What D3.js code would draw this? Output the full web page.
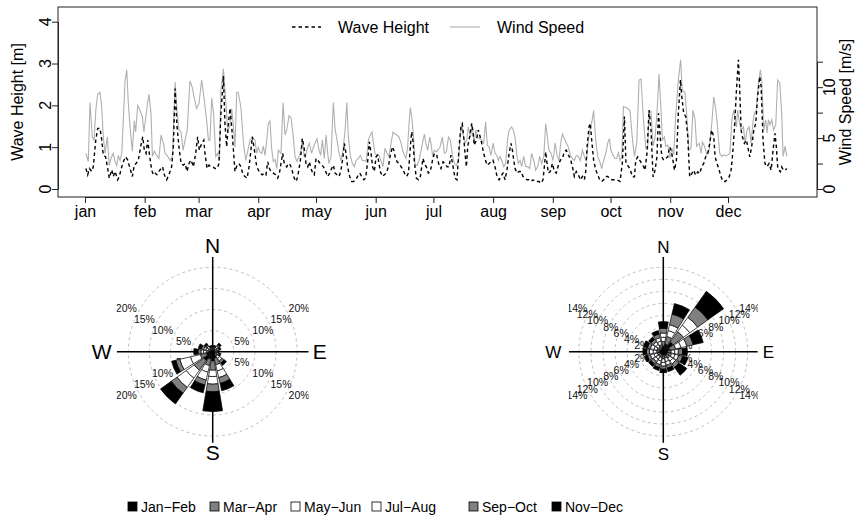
<!DOCTYPE html>
<html><head><meta charset="utf-8">
<script src="https://cdn.jsdelivr.net/npm/d3@7"></script>
<style>
html,body{margin:0;padding:0;background:#fff;}
svg{display:block;font-family:"Liberation Sans",Arial,Helvetica,sans-serif;}
</style></head><body>
<svg id="chart" width="858" height="519"></svg>
<script>
// ---- daily series (day of year) ----
const monthLabels = ["jan","feb","mar","apr","may","jun","jul","aug","sep","oct","nov","dec"];
const monthStartDays = [0,31,59,90,120,151,181,212,243,273,304,334];
const waveTicks = [0,1,2,3,4];
const windTicks = [0,2.5,5,7.5,10,12.5];
const windTickLabels = [0,5,10];

const waveDays = [
0.5,1.4,2.3,3.5,4.3,5.6,6.6,7.8,8.7,9.5,10.7,11.8,12.6,13.9,14.7,15.6,17.0,17.8,19.1,19.9,21.1,22.2,23.4,24.6,25.6,26.5,27.7,28.9,30.0,30.8,31.7,32.6,33.4,34.6,35.5,36.4,37.4,38.4,39.5,40.3,41.2,42.4,43.6,45.0,45.9,46.8,47.8,48.8,49.9,51.1,52.0,53.0,54.0,55.1,56.3,57.5,58.5,59.4,60.6,61.7,62.3,63.4,64.4,65.5,66.5,67.5,68.6,69.6,70.5,71.9,72.7,73.6,74.5,75.3,76.2,77.1,77.9,79.0,80.0,81.0,82.1,83.1,84.2,85.2,86.2,86.9,88.0,89.2,
90.9,92.1,93.2,94.0,94.9,95.8,96.6,97.8,99.0,100.1,101.0,101.8,102.7,103.5,104.8,105.6,106.7,107.7,108.7,109.8,110.8,111.9,112.9,114.0,114.8,115.7,116.5,117.4,118.3,119.1,120.0,120.9,122.1,122.9,123.9,125.0,126.1,127.1,128.1,129.0,129.9,130.9,132.0,133.0,134.0,134.7,135.6,136.4,137.5,138.5,139.6,140.6,141.6,142.7,143.7,144.8,145.8,146.8,147.7,148.6,149.4,150.3,151.2,152.0,152.7,153.4,154.5,155.5,156.5,157.6,158.6,159.7,160.4,161.1,162.1,163.1,164.2,165.2,166.3,167.1,168.0,169.0,169.7,170.4,171.1,172.1,173.2,174.2,174.9,175.6,176.3,177.3,178.4,179.4,180.5,181.5,182.7,
183.9,184.9,186.0,187.0,188.1,189.1,190.1,191.2,192.2,193.2,193.9,194.6,195.3,196.0,196.7,197.4,198.1,198.8,199.8,200.9,201.6,202.2,203.3,204.3,205.0,205.7,206.4,207.1,207.8,208.8,209.9,210.9,211.9,213.0,214.0,215.1,216.1,217.1,218.2,219.2,220.3,221.3,222.0,222.7,223.4,224.4,225.5,226.5,227.5,228.6,229.6,230.6,231.7,232.7,233.8,234.8,235.8,236.9,237.9,238.6,239.3,240.0,240.7,241.7,242.8,243.8,244.8,245.9,246.9,248.0,249.0,250.0,251.1,252.1,253.2,254.2,255.2,256.3,257.3,258.4,259.4,260.1,260.8,261.8,262.5,263.2,264.2,265.3,266.3,267.4,268.4,269.4,270.5,271.5,272.6,273.6,274.6,276.2,
277.9,279.1,280.2,281.0,282.3,283.3,284.4,285.4,286.1,287.1,288.1,289.2,290.2,290.9,291.9,293.0,294.0,295.1,296.1,297.1,297.9,298.9,299.6,300.6,301.7,302.7,303.7,304.4,305.1,306.2,307.2,308.2,309.3,310.0,311.0,312.1,313.1,314.1,315.2,316.2,317.2,318.3,319.3,320.3,321.4,322.4,323.5,324.5,325.5,326.6,327.3,328.3,329.4,330.4,331.4,332.5,333.5,334.6,335.6,336.3,337.3,338.4,339.4,340.1,340.8,341.5,342.5,343.6,344.6,345.3,346.3,347.4,348.4,349.4,350.5,351.2,352.2,353.2,354.3,355.3,356.4,357.4,358.4,359.1,359.8,360.5,361.2,361.9,362.8,363.7,364.5];
const waveHeight = [
0.49,0.34,0.49,0.42,0.53,1.17,1.45,1.45,1.17,0.81,0.77,0.49,0.26,0.46,0.30,0.42,0.22,0.30,0.53,0.65,0.77,0.69,0.49,0.30,0.57,0.61,0.69,1.01,1.25,0.93,0.85,1.17,0.85,0.46,0.34,0.38,0.34,0.42,0.49,0.53,0.34,0.22,0.34,0.53,1.01,2.40,1.49,1.01,0.61,0.57,0.61,0.42,0.61,0.69,0.53,0.85,1.25,0.93,1.09,1.17,0.85,0.49,0.57,0.53,0.53,0.49,0.49,0.61,1.73,2.70,1.57,1.01,1.57,1.93,1.49,0.93,0.42,0.57,0.61,0.53,0.34,0.30,0.26,0.53,0.93,1.25,0.93,0.53,
0.38,0.34,0.38,0.34,0.65,0.49,0.42,0.38,0.34,0.26,0.38,0.61,0.85,0.61,0.53,0.61,0.57,0.42,0.26,0.18,0.38,0.69,1.21,0.93,0.61,0.53,0.65,0.49,0.38,0.34,0.73,0.69,0.61,0.57,0.53,0.42,0.30,0.38,0.49,0.57,0.38,0.34,0.30,0.46,0.77,1.09,0.85,0.53,0.30,0.18,0.18,0.22,0.30,0.38,0.30,0.22,0.26,0.65,1.13,0.85,0.53,0.42,0.77,0.81,0.61,0.42,0.30,0.34,0.38,0.53,0.81,1.01,0.93,0.77,0.65,0.61,0.53,0.46,0.34,0.30,0.38,1.01,1.37,1.13,0.65,0.26,0.22,0.30,0.53,0.73,0.61,0.53,0.38,0.42,0.69,0.85,0.81,
0.57,0.49,0.65,0.61,0.53,0.53,0.81,0.53,0.26,0.22,0.69,1.17,1.49,1.56,1.25,0.85,0.53,1.01,1.25,1.57,1.33,1.05,1.17,1.41,1.29,1.17,1.01,0.85,0.73,0.57,0.61,0.65,0.69,0.53,0.30,0.22,0.30,0.38,0.22,0.46,0.85,1.09,0.93,0.69,0.49,0.38,0.42,0.42,0.30,0.26,0.22,0.22,0.18,0.22,0.18,0.18,0.18,0.14,0.22,0.53,0.89,0.61,0.38,0.42,0.61,0.42,0.38,0.57,0.69,0.73,0.89,0.93,0.81,0.73,0.53,0.30,0.42,0.34,0.22,0.30,0.22,0.42,1.01,1.49,1.57,1.17,0.69,0.46,0.34,0.22,0.18,0.22,0.30,0.30,0.26,0.22,0.22,0.22,
0.18,0.61,1.73,0.61,0.54,0.45,0.29,0.29,0.69,0.77,0.69,0.61,0.53,0.45,0.85,1.89,1.41,0.29,0.45,0.77,1.81,1.17,0.77,0.69,0.73,0.77,1.01,0.93,0.77,0.45,0.69,1.81,2.61,2.21,1.81,1.73,1.25,0.29,0.37,0.45,0.33,0.41,0.37,0.53,0.61,0.77,0.85,1.09,1.41,1.25,0.77,0.61,0.45,0.29,0.18,0.18,0.22,0.29,0.45,0.77,1.41,2.37,3.09,2.37,1.41,1.25,1.09,1.17,0.93,0.77,1.01,1.41,1.57,2.21,2.69,2.45,1.17,0.61,0.53,0.61,0.45,0.93,1.33,1.01,0.53,0.45,0.41,0.53,0.45,0.45,0.49];

const windDays = [
0.5,1.7,2.6,3.8,4.7,5.6,6.6,7.8,8.7,9.5,10.4,11.6,12.6,13.5,14.7,15.6,16.5,17.3,18.2,19.1,20.8,21.7,22.5,23.4,24.6,25.6,26.3,27.4,28.6,29.8,30.6,32.2,33.2,34.3,35.0,36.0,37.2,38.4,39.5,40.7,41.6,43.0,44.2,45.4,46.8,47.8,48.8,49.9,50.9,52.0,53.1,54.5,55.7,56.8,58.0,59.2,60.6,61.8,63.2,64.1,64.9,65.8,66.8,67.9,68.9,69.8,70.6,71.9,73.1,74.1,75.2,76.2,77.0,77.9,78.8,79.6,81.0,82.3,83.5,84.5,85.7,86.9,88.3,89.2,90.0,
90.9,91.8,92.6,93.5,94.4,95.2,96.1,96.9,97.8,98.7,99.6,100.4,101.8,102.9,103.9,104.9,106.0,107.0,108.2,109.1,110.1,111.2,112.2,112.9,113.8,114.6,115.7,116.5,117.7,118.6,119.5,120.5,121.6,122.4,123.3,124.3,125.2,126.1,126.7,127.8,129.0,129.9,130.9,132.0,133.0,134.0,135.1,136.0,136.8,137.8,138.9,139.9,140.8,142.0,143.0,144.1,145.1,146.1,147.2,148.2,149.1,149.8,150.6,151.7,152.7,153.7,154.8,155.8,156.9,157.9,159.0,160.0,161.0,162.1,163.1,164.2,165.0,165.9,166.7,167.6,168.3,169.0,169.7,170.6,171.4,172.5,173.5,174.6,175.6,176.3,177.0,178.0,179.1,179.7,180.6,181.5,182.7,
183.2,184.4,185.6,186.7,187.7,188.8,189.8,190.8,191.9,192.9,194.0,194.8,195.7,196.6,197.4,198.3,199.1,200.2,201.2,202.1,203.0,204.0,205.0,206.1,207.1,208.1,209.0,209.9,210.9,212.0,213.0,213.9,214.7,215.6,216.5,217.5,218.5,219.6,220.4,221.6,222.5,223.4,224.2,225.1,226.0,226.8,227.9,228.9,229.9,231.0,232.0,233.1,234.1,235.2,236.2,237.2,238.3,239.3,240.2,241.0,242.1,243.1,244.2,245.2,246.2,247.1,248.0,249.0,250.1,251.1,252.1,253.2,254.2,255.2,256.3,257.3,258.4,259.4,260.4,261.5,262.5,263.4,264.2,265.3,266.3,267.4,268.4,269.4,270.5,271.5,272.4,273.2,274.3,275.3,
276.2,277.1,277.9,278.8,279.7,280.9,281.9,283.1,284.4,285.4,286.6,287.8,288.8,290.1,291.3,292.3,293.0,294.0,295.1,296.1,297.1,298.2,299.2,299.9,301.0,301.7,302.7,303.9,304.8,305.8,306.8,308.2,309.4,310.2,311.6,312.4,313.7,314.8,315.8,316.9,317.7,319.0,320.0,320.7,321.8,323.0,324.2,325.6,326.6,327.7,328.7,329.7,330.8,331.8,332.9,333.9,335.0,336.0,337.0,337.7,338.4,339.0,339.7,340.8,342.0,342.9,343.9,345.0,346.0,347.0,347.7,348.7,349.8,350.8,351.5,352.6,353.6,354.3,355.0,355.8,356.7,357.7,358.8,359.8,360.9,361.9,362.6,363.7,364.5];
const windSpeed = [
3.5,2.7,8.5,5.1,4.8,7.7,9.3,9.5,8.0,5.1,3.5,5.1,2.3,3.0,3.5,2.7,2.3,3.3,2.8,3.5,10.6,11.7,8.4,6.1,3.7,6.7,5.6,8.2,7.7,7.1,5.6,8.0,9.3,7.4,3.2,3.7,3.3,3.0,5.3,4.5,3.5,3.2,2.8,3.2,10.5,7.6,5.8,5.6,3.8,4.8,5.8,10.6,10.0,8.9,7.9,8.4,10.7,9.0,6.7,4.8,4.8,8.9,7.4,3.2,3.5,2.8,9.7,11.8,8.7,5.8,6.1,7.9,6.4,4.1,9.5,9.5,8.0,4.5,2.8,3.7,4.8,5.1,4.8,3.5,4.1,
3.65,3.5,4.2,3.3,4.8,6.4,6.7,4.1,2.7,2.9,2.0,3.8,3.5,8.5,5.3,5.9,7.2,7.0,5.1,3.2,2.7,3.2,3.8,4.8,3.2,3.3,4.1,4.5,3.5,4.1,4.5,4.95,3.8,3.3,4.8,3.0,5.3,3.5,2.5,3.2,8.5,5.9,4.8,3.5,2.8,3.8,5.8,8.5,5.1,3.3,2.5,2.2,2.8,3.0,3.3,2.8,2.8,2.7,4.8,5.3,5.6,4.5,3.5,3.3,3.3,2.8,2.2,4.0,3.5,3.2,4.5,5.6,5.4,5.3,5.1,4.5,3.8,3.3,3.0,4.1,6.4,8.0,7.1,5.3,2.5,2.3,2.8,3.8,4.8,5.4,4.5,3.8,5.1,4.5,3.2,3.8,3.65,
3.8,4.1,5.1,3.5,3.65,5.1,4.8,3.3,2.5,2.3,2.8,4.8,6.4,5.1,4.5,4.8,6.1,5.1,6.3,4.5,5.8,5.1,4.95,4.8,4.5,6.6,4.3,4.1,3.3,4.5,3.5,3.3,2.8,3.2,2.8,2.2,2.5,5.1,5.8,6.1,5.8,5.1,3.5,2.5,2.8,2.2,3.2,2.2,2.2,2.0,3.5,2.8,1.85,2.2,3.2,2.5,3.2,6.4,5.1,3.8,3.5,2.8,4.5,3.3,2.8,4.5,5.4,4.95,4.5,4.1,3.3,3.0,2.8,3.3,3.2,2.8,3.8,3.2,2.7,4.8,6.1,6.7,7.7,4.8,3.2,2.7,2.0,2.8,3.5,4.5,4.95,3.8,3.3,3.0,
3.0,3.65,2.8,3.15,8.1,8.0,7.9,7.7,4.8,3.2,4.5,10.7,10.8,6.8,4.0,4.0,7.6,7.6,4.2,5.1,7.4,11.3,7.75,4.8,5.1,4.2,4.3,3.0,4.0,3.35,7.1,10.7,12.7,9.7,9.5,7.75,3.8,4.0,7.75,6.8,4.2,4.5,3.5,4.6,4.2,3.35,3.8,6.45,9.05,7.75,5.8,3.5,3.2,3.35,3.25,3.35,3.5,6.8,7.75,6.8,6.1,7.75,6.8,5.8,6.1,4.5,5.8,6.1,4.5,6.6,7.4,7.75,10.4,11.7,10.7,5.8,6.8,5.5,6.8,6.3,6.8,5.8,6.3,10.7,10.4,7.4,3.2,4.2,3.2];

// ---- directional frequencies (%) per two-month period, 16 sectors N..NNW ----
const directions = ["N","NNE","NE","ENE","E","ESE","SE","SSE","S","SSW","SW","WSW","W","WNW","NW","NNW"];
const periods = ["Jan\u2212Feb","Mar\u2212Apr","May\u2212Jun","Jul\u2212Aug","Sep\u2212Oct","Nov\u2212Dec"];
const periodFills = ["#000000","#808080","#ffffff","#ffffff","#808080","#000000"];

const waveDirJanFeb = [.3,.3,.4,.3,.3,.3,.7,1.6,2.2,1.8,2.6,1.5,.8,.6,.4,.3];
const waveDirMarApr = [.2,.2,.4,.3,.2,.3,.6,1.6,2.2,1.6,2.8,1.5,.7,.5,.4,.2];
const waveDirMayJun = [.2,.2,.4,.4,.3,.4,.7,1.5,1.5,1.6,2.3,2.4,.7,.6,.4,.3];
const waveDirJulAug = [.2,.2,.4,.4,.3,.4,.7,1.6,1.8,1.9,2.7,2.6,.6,.5,.4,.2];
const waveDirSepOct = [.3,.3,.4,.3,.2,.3,.6,1.4,1.8,1.2,1.7,1.0,.7,.6,.4,.2];
const waveDirNovDec = [.3,.3,.5,.3,.2,.3,.7,1.8,4.7,1.9,3.1,1.0,1.0,.7,.5,.3];

const windDirJanFeb = [.9,1.3,2.0,1.1,.7,.7,.7,.6,.6,.5,.5,.5,.6,.6,.5,.6];
const windDirMarApr = [.8,1.3,2.1,1.0,.6,.7,.6,.5,.6,.5,.5,.5,.5,.5,.5,.6];
const windDirMayJun = [.7,1.0,1.3,.9,.6,.6,.6,.6,.6,.6,.5,.6,.6,.5,.5,.6];
const windDirJulAug = [.7,1.0,1.6,1.0,.6,.6,.6,.6,.6,.6,.5,.6,.6,.6,.5,.6];
const windDirSepOct = [.8,1.8,2.1,1.1,.7,.7,.7,.5,.5,.5,.5,.5,.5,.5,.5,.6];
const windDirNovDec = [1.1,1.8,3.2,1.7,.8,.9,1.6,.6,.6,.5,.5,.5,.6,.7,.5,.6];

const waveRings = [5,10,15,20];
const windRings = [2,4,6,8,10,12,14];

// ---------------------------------------------------------------
const svg = d3.select("#chart");
const TXT = "#000";

// ---- time series panel ----
const box = {x0:58, y0:7, x1:817, y1:197};
const x = d3.scaleLinear().domain([0,334]).range([85,728]);
const yWave = d3.scaleLinear().domain([0,4]).range([189,21.7]);
const yWind = d3.scaleLinear().domain([0,12.5]).range([189,61.7]);

const windLine = d3.line().x(d=>x(d[0])).y(d=>yWind(d[1]));
const waveLine = d3.line().x(d=>x(d[0])).y(d=>yWave(d[1]));

svg.append("path").datum(d3.zip(windDays, windSpeed))
  .attr("d", windLine).attr("fill","none").attr("stroke","#b0b0b0").attr("stroke-width",1.1);
svg.append("path").datum(d3.zip(waveDays, waveHeight))
  .attr("d", waveLine).attr("fill","none").attr("stroke","#000").attr("stroke-width",1.4)
  .attr("stroke-dasharray","3.5,3");

svg.append("rect").attr("x",box.x0).attr("y",box.y0)
  .attr("width",box.x1-box.x0).attr("height",box.y1-box.y0)
  .attr("fill","none").attr("stroke","#222").attr("stroke-width",1);

function styleAxis(g){
  g.select(".domain").attr("stroke","#222");
  g.selectAll(".tick line").attr("stroke","#222");
}
// left axis
svg.append("g").attr("transform",`translate(${box.x0},0)`)
  .call(d3.axisLeft(yWave).tickValues(waveTicks).tickSize(6).tickSizeOuter(0).tickFormat(""))
  .call(styleAxis);
svg.append("g").selectAll("text").data(waveTicks).join("text")
  .attr("transform", d=>`translate(50.5,${yWave(d)}) rotate(-90)`)
  .attr("text-anchor","middle").attr("font-size",16).attr("fill",TXT).text(d=>d);
svg.append("text").attr("transform",`translate(22.5,${(box.y0+box.y1)/2}) rotate(-90)`)
  .attr("text-anchor","middle").attr("font-size",16).attr("fill",TXT).text("Wave Height [m]");

// right axis
svg.append("g").attr("transform",`translate(${box.x1},0)`)
  .call(d3.axisRight(yWind).tickValues(windTicks).tickSize(6).tickSizeOuter(0).tickFormat(""))
  .call(styleAxis);
svg.append("g").selectAll("text").data(windTickLabels).join("text")
  .attr("transform", d=>`translate(834.5,${yWind(d)}) rotate(-90)`)
  .attr("text-anchor","middle").attr("font-size",16).attr("fill",TXT).text(d=>d);
svg.append("text").attr("transform",`translate(850.5,${(box.y0+box.y1)/2}) rotate(-90)`)
  .attr("text-anchor","middle").attr("font-size",16).attr("fill",TXT).text("Wind Speed [m/s]");

// bottom axis
const gx = svg.append("g").attr("transform",`translate(0,${box.y1})`)
  .call(d3.axisBottom(x).tickValues(monthStartDays).tickFormat((d,i)=>monthLabels[i])
        .tickSize(6).tickSizeOuter(0).tickPadding(3))
  .call(styleAxis);
gx.selectAll("text").attr("font-size",16).attr("font-family",null).attr("fill",TXT);

// legend inside panel
const lg = svg.append("g");
lg.append("line").attr("x1",292).attr("x2",321).attr("y1",27).attr("y2",27)
  .attr("stroke","#000").attr("stroke-width",1.4).attr("stroke-dasharray","3.5,3");
lg.append("text").attr("x",338).attr("y",32.7).attr("font-size",16).attr("fill",TXT).text("Wave Height");
lg.append("line").attr("x1",450).attr("x2",480).attr("y1",27).attr("y2",27)
  .attr("stroke","#b0b0b0").attr("stroke-width",1.1);
lg.append("text").attr("x",497).attr("y",32.7).attr("font-size",16).attr("fill",TXT).text("Wind Speed");

// ---- rose diagrams ----
function drawRose(o){
  const stacks = o.groups; // six period arrays of 16 sector values
  const r = d3.scaleLinear().domain([0,o.maxPct]).range([0,84.4]);
  const g = svg.append("g").attr("transform",`translate(${o.cx},${o.cy})`);
  svg.append("defs").append("clipPath").attr("id",o.id)
    .append("rect").attr("x",o.cx-o.half).attr("y",o.cy-95).attr("width",2*o.half).attr("height",190);
  const outer = svg.append("g").attr("clip-path",`url(#${o.id})`);
  const c = outer.append("g").attr("transform",`translate(${o.cx},${o.cy})`);

  c.selectAll("circle").data(o.rings).join("circle")
    .attr("r",d=>r(d)).attr("fill","none").attr("stroke","#b8b8b8")
    .attr("stroke-width",0.9).attr("stroke-dasharray","3,3");

  const ang = 31*Math.PI/180;
  const quads = [[1,-1],[-1,-1],[-1,1],[1,1]];
  quads.forEach(([sx,sy])=>{
    c.append("g").selectAll("text").data(o.rings).join("text")
      .attr("x",d=>sx*(r(d)*Math.cos(ang)+3.5))
      .attr("y",d=>sy*r(d)*Math.sin(ang))
      .attr("dy","0.35em")
      .attr("text-anchor",sx>0?"start":"end")
      .attr("font-size",10.5).attr("fill","#111").text(d=>d+"%");
  });

  c.append("line").attr("x1",-o.half).attr("x2",o.half).attr("y1",0).attr("y2",0)
    .attr("stroke","#000").attr("stroke-width",1.5);
  c.append("line").attr("x1",0).attr("x2",0).attr("y1",-95).attr("y2",91)
    .attr("stroke","#000").attr("stroke-width",1.5);

  const half = 9.5*Math.PI/180;
  const arc = d3.arc();
  directions.forEach((dir,i)=>{
    const a = i*Math.PI/8;
    let cum = 0;
    stacks.forEach((arr,k)=>{
      const v = arr[i];
      c.append("path").attr("d",arc({innerRadius:r(cum),outerRadius:r(cum+v),startAngle:a-half,endAngle:a+half}))
        .attr("fill",periodFills[k]).attr("stroke","#000").attr("stroke-width",0.7);
      cum += v;
    });
  });

  const fs = o.compassSize;
  const lab = [["N",0,-o.dN],["S",0,o.dS],["W",-o.dW,0],["E",o.dE,0]];
  lab.forEach(([t,dx,dy])=>{
    g.append("text").attr("x",dx).attr("y",dy).attr("dy","0.36em")
      .attr("text-anchor","middle").attr("font-size",fs).attr("fill",TXT).text(t);
  });
}

drawRose({id:"clipWave",cx:212.7,cy:351.7,half:96,maxPct:20,rings:waveRings,
  groups:[waveDirJanFeb,waveDirMarApr,waveDirMayJun,waveDirJulAug,waveDirSepOct,waveDirNovDec],
  compassSize:21,dN:106,dS:101,dW:111,dE:107});
drawRose({id:"clipWind",cx:663.3,cy:351.7,half:94.5,maxPct:14,rings:windRings,
  groups:[windDirJanFeb,windDirMarApr,windDirMayJun,windDirJulAug,windDirSepOct,windDirNovDec],
  compassSize:17,dN:105,dS:102,dW:110,dE:105});

// ---- period legend ----
const legX = [128,210,291,372,469,552];
const pl = svg.append("g");
periods.forEach((p,i)=>{
  pl.append("rect").attr("x",legX[i]).attr("y",502).attr("width",9).attr("height",9)
    .attr("fill",periodFills[i]).attr("stroke","#000").attr("stroke-width",0.8);
  pl.append("text").attr("x",legX[i]+13).attr("y",511.5).attr("font-size",14).attr("fill",TXT).text(p);
});
</script>
</body></html>
